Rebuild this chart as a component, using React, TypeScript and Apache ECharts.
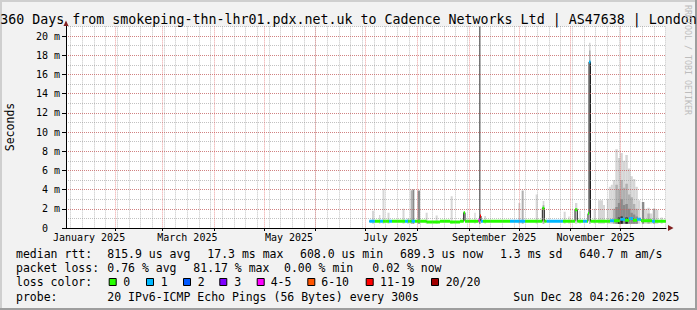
import React, { useEffect, useRef } from 'react';
import * as echarts from 'echarts';

// ---- time frame: 360 days ending Sun Dec 28 04:26:20 2025 ----
const START = Date.UTC(2025, 0, 2, 4, 26, 20);
const DAY = 86400000;
const toDay = (t: number) => (t - START) / DAY;

// ---- axis labels / ticks ----
const labelMonthIdx = [0, 2, 4, 6, 8, 10];
const labelMonthNames = ['January 2025', 'March 2025', 'May 2025', 'July 2025', 'September 2025', 'November 2025'];
const gridMonthIdx = [1, 2, 3, 4, 5, 6, 7, 8, 9, 10, 11];
const yTickValues = [0, 2, 4, 6, 8, 10, 12, 14, 16, 18, 20];
const yMinorValues = [0, 1, 2, 3, 4, 5, 6, 7, 8, 9, 10, 11, 12, 13, 14, 15, 16, 17, 18, 19, 20, 21];

// ---- smoke columns (days since start, span in days, tops in ms per shade; 0 = none) ----
const smokeStart = [183.6, 187.8, 189.9, 192.9, 201.9, 204.6, 206.8, 208.0, 211.0, 215.8, 221.8, 230.8, 245.0, 248.0, 251.0, 271.4, 273.4, 281.8, 286.0, 298.6, 301.4, 305.4, 308.0, 313.8, 316.6, 319.2, 322.2, 324.5, 325.7, 326.9, 328.1, 329.6, 331.1, 332.6, 334.1, 335.6, 337.1, 338.6, 340.1, 341.6, 343.1, 345.5, 347.3, 348.8, 350.3, 352.1, 353.9, 356.8];
const smokeSpan = [1.2, 0.8, 1.2, 1.2, 1.2, 1.2, 1.2, 1.0, 1.4, 1.2, 1.2, 1.2, 0.8, 0.5, 1.0, 1.2, 1.2, 1.2, 1.0, 1.2, 0.8, 1.4, 0.8, 0.9, 1.2, 3.0, 1.2, 1.2, 1.2, 1.2, 1.5, 1.5, 1.5, 1.5, 1.5, 1.5, 1.5, 1.5, 1.5, 1.5, 1.5, 1.5, 1.5, 1.5, 1.5, 1.5, 1.5, 1.2];
const smokeLight = [1.8, 1.35, 4.1, 1.6, 2.0, 1.0, 4.0, 0, 0, 1.6, 1.3, 3.3, 1.6, 0, 1.25, 2.6, 0, 3.5, 2.8, 1.7, 1.2, 2.6, 1.8, 19.3, 2.0, 2.9, 2.4, 3.0, 4.3, 4.5, 5.0, 8.2, 7.3, 7.8, 7.0, 7.6, 6.2, 5.4, 5.1, 4.3, 2.9, 0, 2.0, 2.1, 1.5, 2.0, 1.9, 1.1];
const smokeMid = [0, 0, 0, 0, 0, 0, 3.9, 0, 0, 0, 0, 0, 0, 0, 0, 0, 3.9, 0, 2.4, 0, 0, 0, 0, 18.5, 0, 0, 0, 0, 0, 0, 2.0, 4.5, 4.0, 5.0, 4.2, 4.6, 3.5, 3.2, 2.5, 2.0, 0, 0, 0, 1.5, 0, 2.0, 0, 0];
const smokeDark = [0, 0, 0, 0, 0, 0, 0, 4.0, 3.9, 0, 0, 0, 0, 0, 0, 0, 0, 0, 0, 0, 0, 0, 0, 0, 0, 0, 0, 0, 0, 0, 0, 2.2, 2.6, 3.0, 2.4, 2.5, 2.0, 1.6, 1.4, 1.2, 0, 2.7, 0, 0, 0, 0, 0, 0];
const smokeBlack = [0, 0, 0, 0, 0, 0, 0, 0, 0, 0, 0, 0, 0, 22, 0, 0, 0, 0, 0, 0, 0, 0, 0, 0, 0, 0, 0, 0, 0, 0, 0, 0, 1.1, 1.2, 0, 1.1, 0, 0, 0, 0, 0, 0, 0, 0, 0, 0, 0, 0];
const smokeFloor = 0.45;

// ---- median rtt segments (start day, value ms, loss class index) ----
const medStart = [182.0, 185.4, 188.4, 190.2, 193.8, 195.6, 203.4, 205.2, 207.4, 209.4, 216.4, 224.4, 230.4, 236.4, 238.6, 239.4, 247.5, 248.4, 249.0, 250.2, 266.4, 275.4, 285.8, 287.0, 288.4, 298.2, 305.4, 306.8, 310.2, 312.6, 313.2, 313.8, 314.7, 326.4, 328.8, 332.4, 335.4, 337.8, 340.2, 342.6, 345.0, 351.6, 353.4];
const medValue = [0.7, 0.7, 0.7, 0.7, 0.7, 0.7, 0.7, 0.7, 0.7, 0.7, 0.62, 0.7, 0.62, 0.7, 1.6, 0.7, 0.8, 1.25, 0.7, 0.7, 0.7, 0.7, 2.05, 0.7, 0.7, 0.7, 1.9, 0.7, 0.7, 0.7, 1.5, 17.3, 0.7, 0.75, 0.75, 0.9, 0.8, 1.0, 0.8, 0.9, 0.75, 0.7, 0.7];
const medLoss = [1, 0, 1, 0, 1, 0, 1, 0, 1, 0, 0, 0, 0, 0, 0, 0, 4, 6, 1, 0, 1, 0, 0, 0, 1, 0, 0, 0, 1, 0, 0, 1, 0, 1, 0, 1, 0, 1, 0, 1, 0, 1, 0];
const medEnd = 360;

// ---- loss legend ----
const lossColors = ['#26ff00', '#00b8ff', '#0059ff', '#7e00ff', '#ff00ff', '#ff5500', '#ff0000', '#a10000'];
const lossLabels = ['0', '1', '2', '3', '4-5', '6-10', '11-19', '20/20'];
const smokeShades = ['#d6d6d6', '#b0b0b0', '#8a8a8a', '#222222'];

// ---- legend texts ----
const titleText = '360 Days from smokeping-thn-lhr01.pdx.net.uk to Cadence Networks Ltd | AS47638 | London';
const rttItems = ['median rtt:', '815.9 us avg', '17.3 ms max', '608.0 us min', '689.3 us now', '1.3 ms sd', '640.7 m am/s'];
const lossItems = ['packet loss:', '0.76 % avg', '81.17 % max', '0.00 % min', '0.02 % now'];
const probeItems = ['probe:', '20 IPv6-ICMP Echo Pings (56 Bytes) every 300s'];
const dateText = 'Sun Dec 28 04:26:20 2025';

const MONO = '"DejaVu Sans Mono", monospace';

export default function App() {
  const ref = useRef<HTMLDivElement>(null);
  useEffect(() => {
    document.body.style.margin = '0';
    const chart = echarts.init(ref.current!, null, { renderer: 'svg' });

    const weekDays: number[] = [];
    for (let t = Date.UTC(2025, 0, 5); t < START + 360 * DAY; t += 7 * DAY) weekDays.push(toDay(t));
    const monthDays = gridMonthIdx.map((m) => toDay(Date.UTC(2025, m, 1)));
    const labelDays = labelMonthIdx.map((m) => toDay(Date.UTC(2025, m, 16)));

    const smokeItems: number[][] = [];
    const layers = [smokeLight, smokeMid, smokeDark, smokeBlack];
    layers.forEach((arr, k) => {
      arr.forEach((v, i) => {
        if (v > 0) smokeItems.push([smokeStart[i], smokeSpan[i], smokeFloor, v, k]);
      });
    });

    const medItems = medStart.map((s, i) => [s, i + 1 < medStart.length ? medStart[i + 1] : medEnd, medValue[i], medLoss[i]]);
    const medLine = medStart.map((s, i) => [s, medValue[i]]);
    medLine.push([medEnd, medValue[medValue.length - 1]]);

    const legendX = [16, 107.3, 207.3, 300, 400, 500, 579.3];
    const lossX = [16, 107.3, 193.3, 284, 372.3];
    const boxX = [108.7, 146, 183, 219.3, 256.7, 307.3, 365.7, 431];
    const boxLabelX = [123.3, 160.7, 197.7, 234.3, 270.7, 321.3, 380, 445.7];
    const legendFont = '11.5px ' + MONO;

    const txt = (text: string, x: number, y: number, font = legendFont, align = 'left', extra: any = {}) => ({
      type: 'text', x, y, z: 20, ...extra,
      style: { text, font, fill: '#000', align, verticalAlign: 'middle' },
    });

    const graphic: any[] = [
      { type: 'line', z: 1, shape: { x1: 0, y1: 1, x2: 697, y2: 1 }, style: { stroke: '#cfcfcf', lineWidth: 2 } },
      { type: 'line', z: 1, shape: { x1: 1, y1: 0, x2: 1, y2: 310 }, style: { stroke: '#cfcfcf', lineWidth: 2 } },
      { type: 'line', z: 1, shape: { x1: 0, y1: 309, x2: 697, y2: 309 }, style: { stroke: '#9e9e9e', lineWidth: 2 } },
      { type: 'line', z: 1, shape: { x1: 696, y1: 0, x2: 696, y2: 310 }, style: { stroke: '#9e9e9e', lineWidth: 2 } },
      txt(titleText, 348.5, 19.5, '13.3px ' + MONO, 'center'),
      txt('Seconds', 10, 127, '11.5px ' + MONO, 'center', { rotation: Math.PI / 2 }),
      {
        type: 'text', x: 688, y: 60, rotation: -Math.PI / 2, z: 20,
        style: { text: 'RRDTOOL / TOBI OETIKER', font: '8.3px ' + MONO, fill: '#bdbdbd', align: 'center', verticalAlign: 'middle' },
      },
      { type: 'polygon', z: 20, shape: { points: [[63.5, 26], [68.5, 26], [66, 20.5]] }, style: { fill: '#801f1f' } },
      { type: 'polygon', z: 20, shape: { points: [[668, 225], [668, 231], [673.5, 228]] }, style: { fill: '#801f1f' } },
    ];
    rttItems.forEach((t, i) => graphic.push(txt(t, legendX[i], 254)));
    lossItems.forEach((t, i) => graphic.push(txt(t, lossX[i], 268.3)));
    graphic.push(txt('loss color:', 16, 282));
    lossLabels.forEach((t, i) => {
      graphic.push({ type: 'rect', z: 20, shape: { x: boxX[i] + 0.5, y: 278.5, width: 7, height: 7 }, style: { fill: lossColors[i], stroke: '#000', lineWidth: 1 } });
      graphic.push(txt(t, boxLabelX[i], 282));
    });
    graphic.push(txt(probeItems[0], 16, 296.5));
    graphic.push(txt(probeItems[1], 107.3, 296.5));
    graphic.push(txt(dateText, 513.3, 296.5));

    const gridGrey = { color: 'rgba(143,143,143,0.55)', type: [1, 1], width: 1 };
    const gridRed = { color: 'rgba(222,79,79,0.55)', type: [1, 1], width: 1 };

    chart.setOption({
      animation: false,
      backgroundColor: '#f2f2f2',
      grid: { left: 66, right: 31, top: 26.4, bottom: 82, show: true, backgroundColor: '#ffffff', borderWidth: 0 },
      xAxis: [
        {
          type: 'value', min: 0, max: 360, position: 'top', z: 5,
          axisLine: { show: false }, axisLabel: { show: false },
          axisTick: { show: false, customValues: weekDays },
          splitLine: { show: true, lineStyle: gridGrey },
        },
        {
          type: 'value', min: 0, max: 360, position: 'bottom', z: 6,
          axisLine: { show: true, lineStyle: { color: '#000', width: 1 } },
          axisTick: { show: true, customValues: monthDays, length: 3, lineStyle: { color: '#000' } },
          axisLabel: {
            customValues: labelDays, margin: 4, fontFamily: MONO, fontSize: 10, color: '#000',
            formatter: (v: number) => {
              let best = 0;
              labelDays.forEach((d, i) => { if (Math.abs(d - v) < Math.abs(labelDays[best] - v)) best = i; });
              return labelMonthNames[best];
            },
          },
          splitLine: { show: true, lineStyle: gridRed },
        },
      ],
      yAxis: [
        {
          type: 'value', min: 0, max: 21, position: 'right', z: 5,
          axisLine: { show: false }, axisLabel: { show: false },
          axisTick: { show: false, customValues: yMinorValues },
          splitLine: { show: true, lineStyle: gridGrey },
        },
        {
          type: 'value', min: 0, max: 21, position: 'left', z: 6,
          axisLine: { show: true, lineStyle: { color: '#000', width: 1 } },
          axisTick: { show: true, customValues: yTickValues, length: 4, lineStyle: { color: '#000' } },
          axisLabel: {
            customValues: yTickValues, margin: 6, fontFamily: MONO, fontSize: 10, color: '#000',
            formatter: (v: number) => (v === 0 ? '0\u00a0\u00a0' : v + ' m'),
          },
          splitLine: { show: true, lineStyle: gridRed },
        },
      ],
      series: [
        {
          type: 'custom', xAxisIndex: 1, yAxisIndex: 1, clip: true, z: 2,
          encode: { x: [0], y: [2, 3] },
          data: smokeItems,
          renderItem: (params: any, api: any) => {
            const s = api.value(0), w = api.value(1), lo = api.value(2), hi = api.value(3), k = api.value(4);
            const p1 = api.coord([s, hi]);
            const p2 = api.coord([s + w, lo]);
            return {
              type: 'rect',
              shape: { x: p1[0], y: p1[1], width: Math.max(p2[0] - p1[0], 1), height: p2[1] - p1[1] },
              style: { fill: smokeShades[k] },
            };
          },
        },
        {
          type: 'line', xAxisIndex: 1, yAxisIndex: 1, step: 'end', symbol: 'none', clip: true, z: 3,
          data: medLine, lineStyle: { color: '#202020', width: 1 },
        },
        {
          type: 'custom', xAxisIndex: 1, yAxisIndex: 1, clip: true, z: 4,
          encode: { x: [0, 1], y: [2] },
          data: medItems,
          renderItem: (params: any, api: any) => {
            const a = api.coord([api.value(0), api.value(2)]);
            const b = api.coord([api.value(1), api.value(2)]);
            return {
              type: 'rect',
              shape: { x: a[0], y: a[1] - 1.5, width: Math.max(b[0] - a[0], 1), height: 3 },
              style: { fill: lossColors[api.value(3)] },
            };
          },
        },
      ],
      graphic,
    });
    return () => chart.dispose();
  }, []);
  return <div ref={ref} style={{ width: 697, height: 310 }} />;
}
